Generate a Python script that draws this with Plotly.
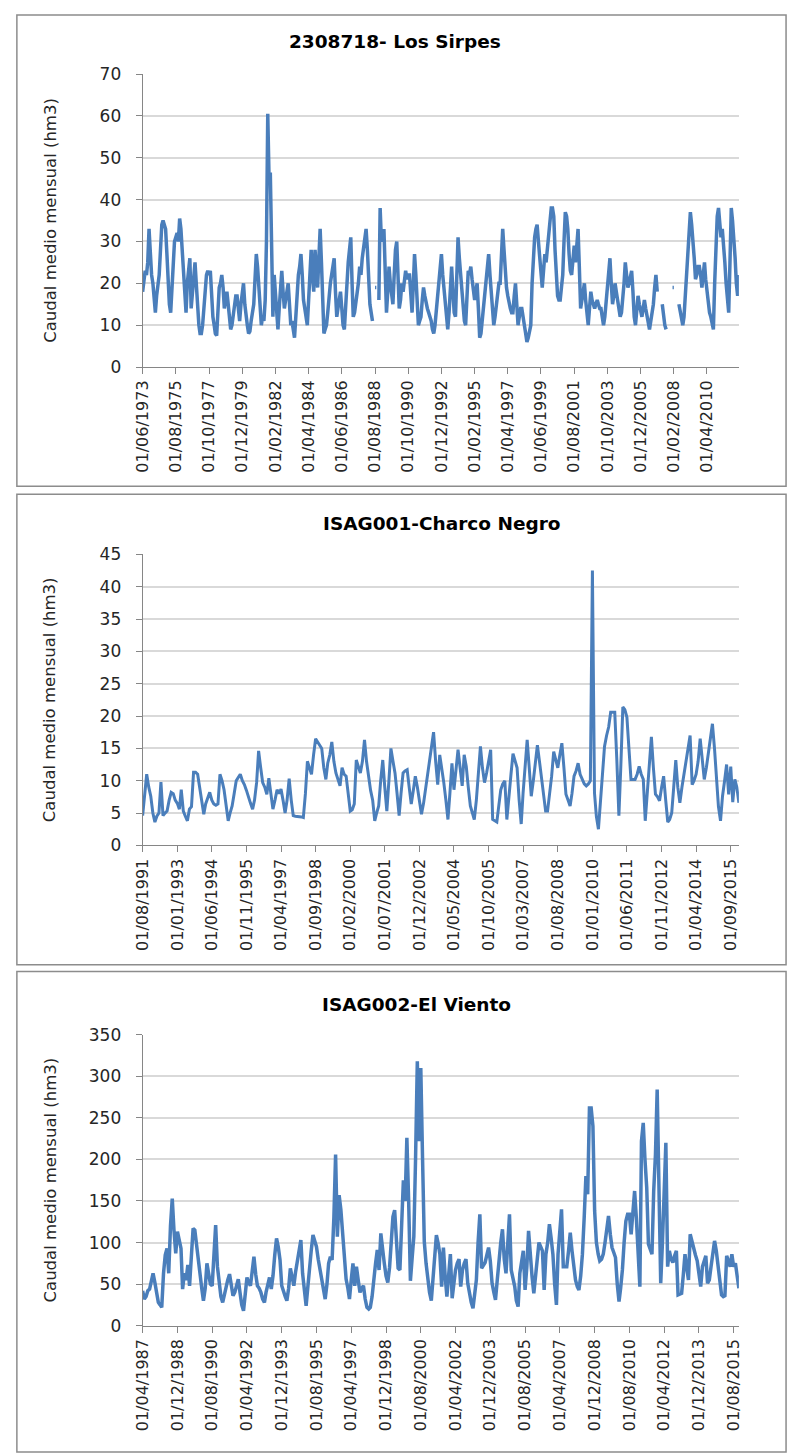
import pandas as pd
import plotly.graph_objects as go

W, H = 793, 1456

titles = ["2308718- Los Sirpes", "ISAG001-Charco Negro", "ISAG002-El Viento"]
y_title = "Caudal medio mensual (hm3)"
starts = ["1973-06-01", "1991-08-01", "1987-04-01"]
tick_steps = [26, 17, 20]
n_ticks = 18
y_max = [70, 45, 350]
y_dtick = [10, 5, 50]

caudal_sirpes = [
    18, 20, 23, 22, 25, 33, 26, 22, 20, 16, 13, 17,
    20, 22, 28, 34, 35, 34, 33, 27, 20, 15, 13, 18,
    24, 30, 31, 32, 30, 35.5, 33, 28, 25, 18, 13, 20,
    24, 26, 14, 18, 22, 25, 20, 14, 10, 8, 8, 10,
    14, 18, 22, 23, 22, 23, 17, 12, 10, 8, 7.5, 12,
    19, 20, 22, 19, 14, 16, 18, 15, 11, 9, 10, 12,
    15, 17, 17, 14, 11, 15, 18, 20, 15, 12, 10, 8,
    8.5, 11, 13, 15, 21, 27, 24, 18, 13, 10, 12, 11,
    16, 30, 60.5, 45, 46.5, 25, 12, 22, 18, 12, 9, 14,
    20, 23, 18, 14, 16, 18, 20, 15, 10, 11, 8, 7,
    12, 18, 22, 24, 27, 22, 16, 14, 12, 10, 16, 24,
    28, 22, 18, 28, 24, 19, 26, 33, 25, 14, 8, 9,
    10, 13, 17, 20, 22, 24, 26, 18, 12, 14, 16, 18,
    14, 10, 9, 15, 20, 25, 28, 31, 20, 12, 13, 15,
    18, 20, 24, 22, 26, 28, 30, 33, 28, 20, 15, 13,
    11, None, 19, 19, None, 16, 38, 30, 31, 33, 22, 13,
    18, 24, 20, 17, 15, 22, 28, 30, 22, 14, 16, 20,
    18, 21, 23, 21, 22, 22, 18, 13, 20, 27, 22, 14,
    10, 11, 12, 16, 19, 17, 15, 14, 13, 12, 11, 9,
    8, 10, 14, 16, 20, 24, 27, 22, 18, 15, 12, 9,
    13, 19, 24, 18, 13, 12, 20, 31, 26, 22, 20, 15,
    11, 10, 16, 23, 22, 24, 21, 18, 16, 18, 20, 14,
    7, 8, 11, 14, 17, 20, 24, 27, 22, 17, 14, 10,
    12, 15, 18, 20, 20, 27, 33, 28, 22, 19, 17, 15,
    14, 13, 13, 17, 20, 15, 10, 12, 14, 14, 11, 10,
    8, 6, 7, 9, 10, 20, 26, 31, 33, 34, 30, 26,
    24, 19, 23, 27, 25, 28, 31, 34, 38, 38, 36, 28,
    20, 17, 16, 16, 19, 22, 30, 37, 36, 33, 27, 23,
    22, 25, 29, 25, 28, 33, 24, 14, 16, 18, 20, 16,
    12, 10, 14, 18, 16, 15, 14, 15, 16, 15, 14, 14,
    12, 10, 12, 16, 20, 24, 26, 20, 15, 17, 20, 18,
    16, 14, 12, 13, 16, 20, 25, 22, 19, 20, 22, 23,
    18, 12, 10, 14, 17, 15, 13, 12, 14, 16, 14, 12,
    10, 9, 11, 13, 15, 19, 22, 18, None, None, None, 15,
    12, 10, 9, None, None, None, None, 19, 19, None, None, None,
    15, 13, 11, 10, 12, 17, 22, 28, 32, 37, 34, 31,
    26, 21, 22, 24, 24, 22, 19, 22, 25, 21, 18, 15,
    13, 12, 10, 9, 20, 31, 36, 38, 34, 31, 33, 30,
    25, 20, 16, 13, 25, 38, 35, 31, 26, 20, 17, 22,
]

caudal_charco = [
    4.6, 8, 11, 9, 7.6, 5, 3.6, 4.5, 5, 9.8, 4.6, 5,
    5.3, 7, 8.2, 8, 7, 6.5, 5.6, 8.6, 5.3, 4.5, 3.8, 5.6,
    6, 11.3, 11.3, 11, 9, 7, 4.8, 6.4, 7.5, 8.2, 7, 6.4,
    6.2, 6.4, 11, 10, 8.6, 6, 3.8, 5, 6.1, 8, 10, 10.5,
    11, 10, 9.4, 8.5, 7.4, 6.5, 5.6, 7, 9.7, 14.6, 12, 9.7,
    9, 7.9, 10.4, 8, 5.6, 7, 8.6, 8, 8.7, 7, 5, 7,
    10.3, 7, 4.6, 4.5, 4.5, 4.4, 4.4, 4.3, 8, 13, 12, 11,
    14, 16.5, 16, 15.5, 15, 12, 10.2, 12.7, 14, 16, 13, 11.2,
    10, 9.2, 12, 11, 10.7, 8, 5.3, 5.5, 6.4, 13.2, 12, 11.2,
    13, 16.3, 13, 10.2, 8.5, 7, 3.8, 5, 6.1, 10, 13.2, 9,
    5.3, 10, 15, 13, 11.2, 8, 4.6, 8, 11.2, 11.5, 11.7, 9,
    6.4, 8.5, 10.7, 9, 7, 4.8, 6.5, 8.5, 10.7, 13, 15.5, 17.5,
    13, 9.4, 14, 12, 9.7, 7, 4, 8, 12.7, 8.6, 11.5, 14.8,
    12, 9.2, 14, 12.2, 9, 6.1, 5, 4, 7, 11, 15.3, 12,
    9.7, 11.2, 13, 14.8, 4, 3.8, 3.6, 6, 8.6, 9.5, 10, 4,
    7, 11, 14.2, 13, 12, 7, 3.3, 8.1, 12, 16.3, 12, 7.6,
    10, 13, 15.5, 13, 10.4, 7.5, 5.3, 5.3, 8, 10.7, 14.5, 13,
    12, 14, 15.8, 12, 7.9, 7, 6.1, 8, 10.7, 11.5, 12.7, 11,
    10.2, 9.5, 9.2, 9.5, 10, 42.5, 8.1, 4.5, 2.5, 6.6, 10, 15.3,
    17, 18.3, 20.6, 20.6, 20.6, 13.2, 4.6, 12, 21.4, 21, 19.8, 15,
    10.2, 10.2, 10.2, 11, 12.2, 11, 10.2, 3.8, 8, 13.2, 16.8, 12,
    7.9, 7.5, 6.9, 9, 10.7, 7, 3.6, 4, 5, 9, 13.2, 9,
    6.6, 9, 11, 12.7, 15, 17, 9.4, 10, 11, 13, 16.5, 13,
    10.2, 12, 14.2, 16.5, 18.8, 15, 10.2, 6, 3.8, 7.6, 10, 12.5,
    7.9, 12.2, 6.7, 10.2, 9, 6.6,
]

caudal_viento = [
    42, 32, 35, 42, 44, 55, 63, 52, 40, 28, 25, 22,
    63, 85, 93, 63, 120, 153, 115, 87, 113, 100, 93, 44,
    63, 55, 73, 48, 80, 117, 115, 95, 79, 55, 44, 30,
    45, 75, 60, 50, 48, 80, 121, 71, 55, 35, 28, 38,
    48, 55, 62, 50, 36, 40, 48, 56, 40, 25, 18, 35,
    58, 52, 48, 65, 83, 62, 48, 45, 40, 32, 28, 40,
    50, 58, 44, 60, 85, 105, 95, 79, 48, 40, 35, 30,
    45, 69, 55, 48, 65, 79, 90, 103, 63, 40, 24, 45,
    75, 90, 109, 102, 95, 80, 68, 56, 45, 32, 50, 75,
    83, 79, 130, 206, 107, 157, 140, 107, 80, 56, 45, 32,
    55, 75, 48, 71, 55, 40, 45, 48, 32, 22, 20, 22,
    35, 58, 75, 91, 67, 111, 90, 75, 60, 52, 70, 93,
    131, 139, 105, 69, 67, 120, 175, 150, 226, 151, 54, 80,
    107, 200, 318, 222, 310, 200, 101, 75, 56, 40, 30, 56,
    80, 109, 99, 86, 47, 94, 60, 35, 60, 86, 33, 50,
    67, 75, 80, 47, 67, 75, 80, 51, 39, 28, 21, 40,
    55, 100, 134, 69, 72, 76, 85, 94, 78, 51, 40, 31,
    55, 82, 100, 116, 80, 63, 100, 134, 67, 55, 47, 30,
    23, 63, 80, 90, 43, 71, 114, 80, 59, 39, 60, 82,
    100, 95, 90, 43, 86, 100, 122, 105, 86, 50, 25, 86,
    110, 140, 71, 71, 71, 90, 112, 90, 67, 55, 47, 43,
    60, 86, 130, 180, 158, 262, 262, 240, 138, 100, 86, 78,
    80, 86, 100, 116, 132, 110, 94, 88, 82, 50, 29, 45,
    67, 100, 126, 134, 134, 110, 138, 162, 130, 90, 47, 222,
    244, 200, 166, 98, 90, 86, 162, 206, 284, 140, 51, 98,
    160, 220, 71, 90, 80, 76, 84, 90, 37, 38, 39, 60,
    86, 70, 55, 110, 100, 94, 85, 78, 60, 47, 71, 78,
    84, 51, 55, 71, 85, 102, 90, 71, 50, 37, 35, 36,
    84, 76, 71, 86, 71, 75, 63, 45,
]

series = [caudal_sirpes, caudal_charco, caudal_viento]

# layout (pixels)
plot_left, plot_right = 135, 742
plot_tops = [65, 552, 1039]
plot_bottoms = [362, 847, 1334]
boxes = [(7, 5, 790, 483), (7, 491, 790, 968), (7, 975, 790, 1462)]
title_pos = [(392, 32), (440, 521), (414, 1008)]
line_widths = [3.5, 3, 3.5]

LINE = "#4a7ebb"
AXIS = "#868686"
GRID = "#d9d9d9"
FONT = "DejaVu Sans"


def fx(x):
    return x / W


def fy(y):
    return 1 - y / H


fig = go.Figure()
layout = dict(
    width=W, height=H, margin=dict(l=0, r=0, t=0, b=0),
    paper_bgcolor="white", plot_bgcolor="white", showlegend=False,
    shapes=[], annotations=[],
)

for i, vals in enumerate(series):
    n = i + 1
    dates = pd.date_range(start=starts[i], periods=len(vals), freq="MS")
    tickvals = list(dates[::tick_steps[i]])[:n_ticks]
    ticktext = [d.strftime("%d/%m/%Y") for d in tickvals]
    xa = "x" if n == 1 else f"x{n}"
    ya = "y" if n == 1 else f"y{n}"
    fig.add_trace(go.Scatter(
        x=dates, y=vals, mode="lines", xaxis=xa, yaxis=ya,
        line=dict(color=LINE, width=line_widths[i]), connectgaps=False,
        hoverinfo="skip",
    ))
    layout["xaxis" if n == 1 else f"xaxis{n}"] = dict(
        domain=[fx(plot_left), fx(plot_right)], anchor=ya, type="date",
        range=[dates[0], dates[-1]], tickmode="array", tickvals=tickvals,
        ticktext=ticktext, tickangle=-90, ticks="outside", ticklen=6,
        tickcolor=AXIS, showline=True, linecolor=AXIS, linewidth=1,
        showgrid=False, zeroline=False,
        tickfont=dict(family=FONT, size=16, color="#262626"),
    )
    layout["yaxis" if n == 1 else f"yaxis{n}"] = dict(
        domain=[fy(plot_bottoms[i]), fy(plot_tops[i])], anchor=xa,
        range=[0, y_max[i]], tick0=0, dtick=y_dtick[i], ticks="outside",
        ticklen=6, tickcolor=AXIS, showline=True, linecolor=AXIS, linewidth=1,
        showgrid=True, gridcolor=GRID, gridwidth=1.5, zeroline=False,
        ticklabelstandoff=11,
        tickfont=dict(family=FONT, size=17, color="#262626"),
    )
    x0, y0, x1, y1 = boxes[i]
    layout["shapes"].append(dict(
        type="rect", xref="paper", yref="paper",
        x0=fx(x0), x1=fx(x1), y0=fy(y1), y1=fy(y0),
        line=dict(color="#8c8c8c", width=1.5), layer="below",
    ))
    tx, ty = title_pos[i]
    layout["annotations"].append(dict(
        text="<b>" + titles[i] + "</b>", xref="paper", yref="paper",
        x=fx(tx), y=fy(ty), xanchor="center", yanchor="middle", showarrow=False,
        font=dict(family=FONT, size=18.5, color="black"),
    ))
    layout["annotations"].append(dict(
        text=y_title, xref="paper", yref="paper", textangle=-90,
        x=fx(41), y=fy((plot_tops[i] + plot_bottoms[i]) / 2),
        xanchor="center", yanchor="middle", showarrow=False,
        font=dict(family=FONT, size=16.5, color="#262626"),
    ))

fig.update_layout(**layout)
fig.write_html("out.html")
